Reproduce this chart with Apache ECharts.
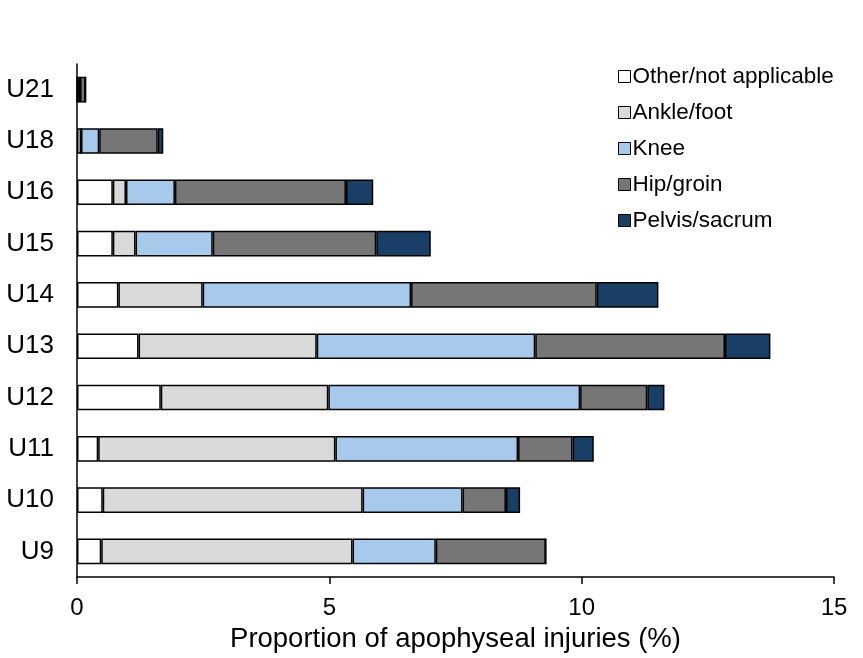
<!DOCTYPE html>
<html>
<head>
<meta charset="utf-8">
<script src="https://cdn.jsdelivr.net/npm/echarts@6/dist/echarts.min.js"></script>
<style>
  html, body { margin: 0; padding: 0; background: #fff; }
  #chart { width: 863px; height: 658px; }
</style>
</head>
<body>
<div id="chart"></div>
<script>
// age groups, bottom to top
const groups = ['U9', 'U10', 'U11', 'U12', 'U13', 'U14', 'U15', 'U16', 'U18', 'U21'];
const xTicks = [0, 5, 10, 15];

// proportion (%) per body region
const other  = [0.48, 0.51, 0.42, 1.66, 1.22, 0.82, 0.71, 0.71, 0.08, 0];
const ankle  = [4.98, 5.15, 4.70, 3.32, 3.53, 1.67, 0.45, 0.26, 0, 0.06];
const knee   = [1.65, 1.98, 3.62, 4.99, 4.33, 4.13, 1.53, 0.97, 0.36, 0];
const hip    = [2.18, 0.86, 1.08, 1.33, 3.76, 3.68, 3.24, 3.39, 1.16, 0.11];
const pelvis = [0, 0.28, 0.42, 0.34, 0.90, 1.22, 1.08, 0.54, 0.11, 0];

const seriesDefs = [
  { name: 'Other/not applicable', data: other, color: '#ffffff' },
  { name: 'Ankle/foot', data: ankle, color: '#d9d9d9' },
  { name: 'Knee', data: knee, color: '#a7c9ec' },
  { name: 'Hip/groin', data: hip, color: '#767676' },
  { name: 'Pelvis/sacrum', data: pelvis, color: '#193f66' }
];

const chart = echarts.init(document.getElementById('chart'));
const font = 'Liberation Sans, Arial, sans-serif';

chart.setOption({
  animation: false,
  backgroundColor: '#ffffff',
  grid: { left: 77, right: 29, top: 64, bottom: 78 },
  legend: {
    orient: 'vertical',
    left: 613,
    top: 60,
    itemWidth: 12,
    itemHeight: 12,
    itemGap: 13,
    icon: 'rect',
    textStyle: { fontFamily: font, fontSize: 22.5, lineHeight: 23, color: '#000', padding: [0, 0, 0, -3] },
    data: seriesDefs.map(s => ({
      name: s.name,
      itemStyle: { color: s.color, borderColor: '#000', borderWidth: 1 }
    }))
  },
  xAxis: {
    type: 'value',
    min: 0,
    max: 15,
    interval: 5,
    name: 'Proportion of apophyseal injuries (%)',
    nameLocation: 'middle',
    nameGap: 44,
    nameTextStyle: { fontFamily: font, fontSize: 27.5, color: '#000' },
    axisLine: { show: true, lineStyle: { color: '#000', width: 1.5 } },
    axisTick: { show: true, length: 7, lineStyle: { color: '#000', width: 1.5 } },
    axisLabel: {
      fontFamily: font, fontSize: 24, color: '#000', margin: 19,
      formatter: v => xTicks.includes(v) ? String(v) : ''
    },
    splitLine: { show: false }
  },
  yAxis: {
    type: 'category',
    data: groups,
    axisLine: { show: true, lineStyle: { color: '#000', width: 1.5 } },
    axisTick: { show: false },
    axisLabel: { fontFamily: font, fontSize: 26, color: '#000', margin: 23 }
  },
  series: seriesDefs.map(s => ({
    name: s.name,
    type: 'bar',
    stack: 'total',
    barWidth: '50%',
    data: s.data,
    itemStyle: { color: s.color, borderColor: '#000', borderWidth: 1.5 }
  }))
});
</script>
</body>
</html>
